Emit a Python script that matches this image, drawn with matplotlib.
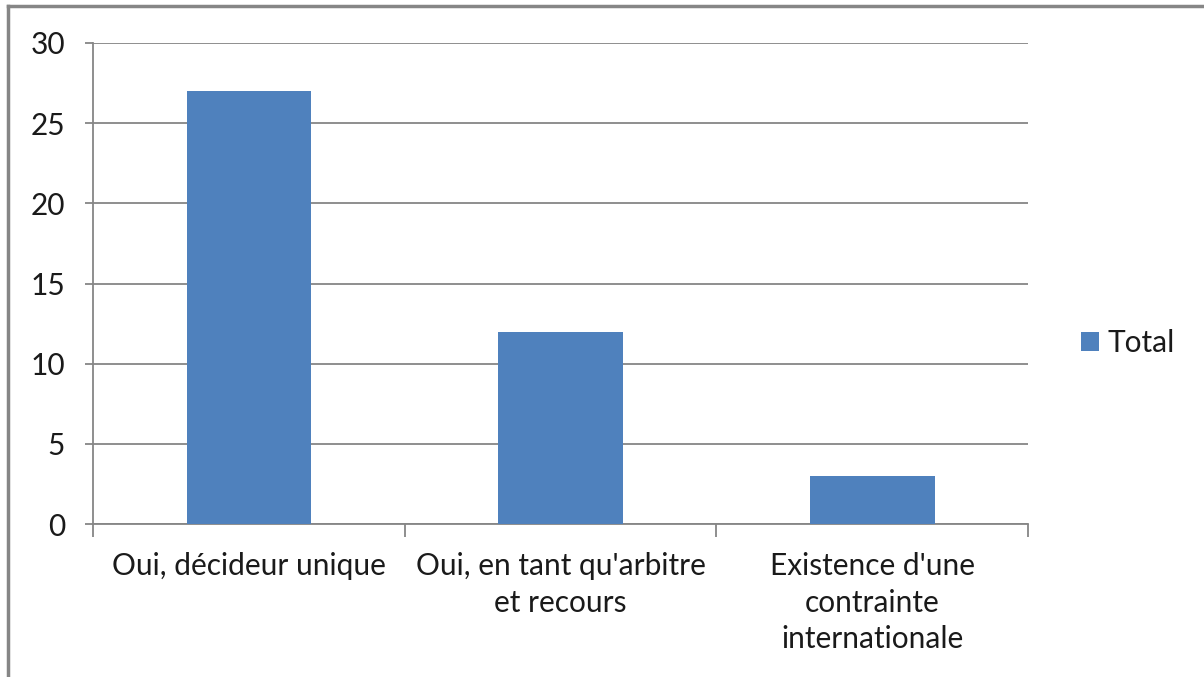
import numpy as np
import matplotlib.pyplot as plt
from matplotlib.lines import Line2D

categories = ["Oui, décideur unique", "Oui, en tant qu'arbitre\net recours",
              "Existence d'une\ncontrainte\ninternationale"]
totals = [27, 12, 3]
y_ticks = [0, 5, 10, 15, 20, 25, 30]

plt.rcParams['font.family'] = ['Lato', 'DejaVu Sans']

W, H = 1204, 677
fig = plt.figure(figsize=(W / 100, H / 100), dpi=100)
# plot area in pixels: left 93, right 1028, top 43, bottom 524
ax = fig.add_axes([93 / W, 1 - 524 / H, (1028 - 93) / W, (524 - 43) / H])

grid_col = '#868686'
txt_col = '#1a1a1a'
fs = 21.5
x = np.arange(len(categories))
ax.bar(x, totals, width=0.4, color='#4F81BD', label='Total', zorder=3)

ax.set_xlim(-0.5, len(categories) - 0.5)
ax.set_ylim(0, 30)
ax.set_yticks(y_ticks)
ax.yaxis.grid(True, color=grid_col, linewidth=1.3, zorder=0)

for s in ['top', 'right']:
    ax.spines[s].set_visible(False)
for s in ['left', 'bottom']:
    ax.spines[s].set_color(grid_col)
    ax.spines[s].set_linewidth(1.3)

# category labels between boundary ticks
ax.set_xticks(np.arange(len(categories) + 1) - 0.5)
ax.set_xticklabels([])
ax.tick_params(axis='x', length=9, width=1.3, color=grid_col)
ax.set_xticks(x, minor=True)
ax.set_xticklabels(categories, minor=True, fontsize=fs, color=txt_col,
                   linespacing=1.38, va='top')
ax.tick_params(axis='x', which='minor', length=0, pad=20)

ax.tick_params(axis='y', length=6, width=1.3, color=grid_col, labelsize=fs,
               labelcolor=txt_col, pad=14)

fig.legend(loc='center left', bbox_to_anchor=(1081 / W, 1 - 343 / H),
           frameon=False, fontsize=fs, handlelength=0.6, handleheight=0.6,
           handletextpad=0.3, borderpad=0, borderaxespad=0, labelcolor=txt_col)

# chart area border (top and left edges visible)
fig.add_artist(Line2D([8 / W, 1], [1 - 6 / H, 1 - 6 / H], color=grid_col,
                      linewidth=2.5, transform=fig.transFigure))
fig.add_artist(Line2D([8 / W, 8 / W], [0, 1 - 6 / H], color=grid_col,
                      linewidth=2.5, transform=fig.transFigure))

fig.savefig('out.png', dpi=100)
